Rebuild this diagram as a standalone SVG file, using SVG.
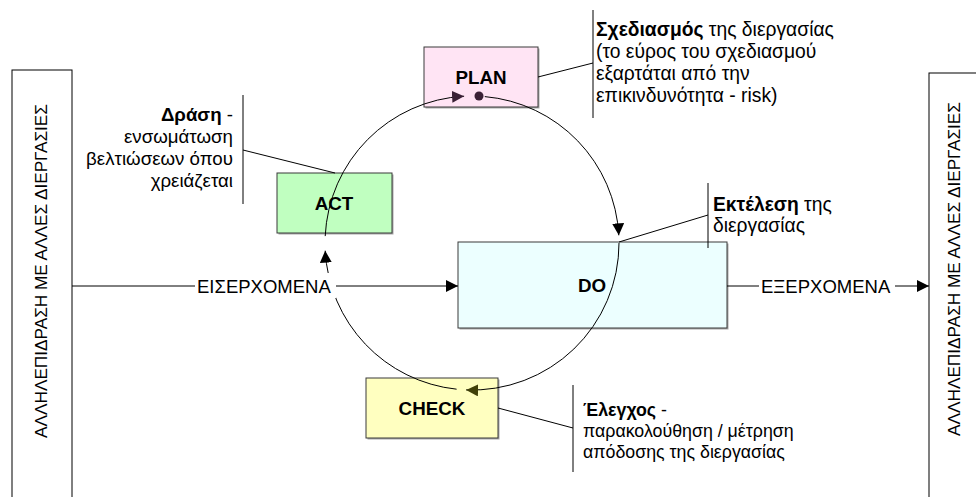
<svg xmlns="http://www.w3.org/2000/svg" width="976" height="497" viewBox="0 0 976 497">
<style>
text{font-family:"Liberation Sans",Arial,sans-serif;fill:#000}
.lbl{font-size:18.8px;font-weight:bold;text-anchor:middle}
.note{font-size:18.7px}
.pnote{font-size:19.3px}
.cnote{font-size:17.8px}
.b{font-weight:bold}
.io{font-size:18.5px}
.side{font-size:17.2px;text-anchor:middle}
.box{stroke:#3a3a3a;stroke-width:1}
.shadow{fill:#a8a8a8}
.ln{fill:none;stroke:#000;stroke-width:1}
.arc{fill:none;stroke:#000;stroke-width:1}
</style>
<defs>
<marker id="ah" markerUnits="userSpaceOnUse" markerWidth="14" markerHeight="14" refX="12" refY="6" orient="auto"><path d="M0,0 L12,6 L0,12 z" fill="#000"/></marker>
<marker id="ahp" markerUnits="userSpaceOnUse" markerWidth="14" markerHeight="14" refX="12" refY="6" orient="auto"><path d="M0,0 L12,6 L0,12 z" fill="#3a2035"/></marker>
<marker id="aho" markerUnits="userSpaceOnUse" markerWidth="14" markerHeight="14" refX="12" refY="6" orient="auto"><path d="M0,0 L12,6 L0,12 z" fill="#404008"/></marker>
</defs>
<rect width="976" height="497" fill="#fff"/>

<g id="left-interaction">
<rect x="12" y="70" width="60" height="440" fill="#fff" stroke="#000"/>
<text class="side" transform="translate(47,271) rotate(-90)">ΑΛΛΗΛΕΠΙΔΡΑΣΗ ΜΕ ΑΛΛΕΣ ΔΙΕΡΓΑΣΙΕΣ</text>
</g>
<g id="right-interaction">
<rect x="929" y="73" width="60" height="440" fill="#fff" stroke="#000"/>
<text class="side" transform="translate(960,269) rotate(-90)">ΑΛΛΗΛΕΠΙΔΡΑΣΗ ΜΕ ΑΛΛΕΣ ΔΙΕΡΓΑΣΙΕΣ</text>
</g>

<g id="plan">
<rect class="shadow" x="425.5" y="48.5" width="114" height="60"/>
<rect class="box" x="424" y="47" width="114" height="60" fill="#ffe4f4"/>
<text class="lbl" x="481" y="84">PLAN</text>
</g>
<g id="act">
<rect class="shadow" x="278.5" y="174.5" width="115" height="60"/>
<rect class="box" x="277" y="173" width="115" height="60" fill="#c0ffc0"/>
<text class="lbl" x="334" y="210">ACT</text>
</g>
<g id="do">
<rect class="shadow" x="459.5" y="243.5" width="269" height="86"/>
<rect class="box" x="458" y="242" width="269" height="86" fill="#ecffff"/>
<text class="lbl" x="592" y="292">DO</text>
</g>
<g id="check">
<rect class="shadow" x="367.5" y="379.5" width="132" height="60"/>
<rect class="box" x="366" y="378" width="132" height="60" fill="#ffffc0"/>
<text class="lbl" x="432" y="415">CHECK</text>
</g>

<g id="connectors">
<path class="arc" d="M484.8,96.6 A147,147 0 0,1 618.8,235.3" marker-end="url(#ah)"/>
<path class="arc" d="M619,243 A147,147 0 0,1 466.1,389.9" marker-end="url(#aho)"/>
<path class="arc" d="M456.6,389.2 A147,147 0 0,1 325.2,250.7" marker-end="url(#ah)"/>
<path class="arc" d="M325.2,236.1 A147,147 0 0,1 464.1,96.2" marker-end="url(#ahp)"/>
<circle cx="479" cy="96" r="4.5" fill="#3a2035"/>
<path class="ln" d="M72,286 H458" marker-end="url(#ah)"/>
<path class="ln" d="M727,286 H929" marker-end="url(#ah)"/>
<path class="ln" d="M538,77 L593,63 M593,10 V118"/>
<path class="ln" d="M335,173 L243,150 M243,95 V204"/>
<path class="ln" d="M619,242 L708,215 M708,183 V248"/>
<path class="ln" d="M498,408 L573,428 M573,385 V472"/>
</g>

<g id="input-label">
<rect x="195" y="273" width="141" height="25" fill="#fff"/>
<text class="io" x="197" y="293">ΕΙΣΕΡΧΟΜΕΝΑ</text>
</g>
<g id="output-label">
<rect x="759" y="273" width="136" height="25" fill="#fff"/>
<text class="io" x="761" y="293">ΕΞΕΡΧΟΜΕΝΑ</text>
</g>

<g id="plan-note">
<text class="pnote" x="596" y="36"><tspan class="b">Σχεδιασμός</tspan> της διεργασίας</text>
<text class="pnote" x="596" y="58">(το εύρος του σχεδιασμού</text>
<text class="pnote" x="596" y="80">εξαρτάται από την</text>
<text class="pnote" x="596" y="102">επικινδυνότητα - risk)</text>
</g>
<g id="act-note">
<text class="note" x="233" y="121" text-anchor="end"><tspan class="b">Δράση</tspan> -</text>
<text class="note" x="233" y="143" text-anchor="end">ενσωμάτωση</text>
<text class="note" x="233" y="165" text-anchor="end">βελτιώσεων όπου</text>
<text class="note" x="233" y="187" text-anchor="end">χρειάζεται</text>
</g>
<g id="do-note">
<text class="pnote" x="713" y="211"><tspan class="b">Εκτέλεση</tspan> της</text>
<text class="pnote" x="713" y="232">διεργασίας</text>
</g>
<g id="check-note">
<text class="cnote" x="583" y="416"><tspan class="b">Έλεγχος</tspan> -</text>
<text class="cnote" x="583" y="437">παρακολούθηση / μέτρηση</text>
<text class="cnote" x="583" y="458">απόδοσης της διεργασίας</text>
</g>
</svg>
